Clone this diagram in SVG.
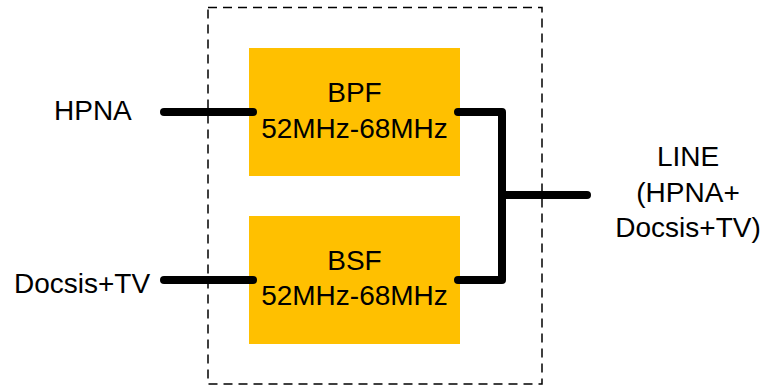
<svg xmlns="http://www.w3.org/2000/svg" width="768" height="387" viewBox="0 0 768 387">
<style>
.t{font-family:"Liberation Sans",Arial,sans-serif;font-size:28px;fill:#000}
.c{text-anchor:middle}
.box{fill:#FFC000}
.w{fill:none;stroke:#000;stroke-width:8;stroke-linecap:round;stroke-linejoin:round}
</style>
<rect x="208" y="7.5" width="334" height="376.5" fill="none" stroke="#000" stroke-width="1.5" stroke-dasharray="9,6"/>
<g id="bpf">
<rect class="box" x="249" y="48" width="211" height="128"/>
<text class="t c" x="354.5" y="101.5">BPF</text>
<text class="t c" x="354.5" y="137.5">52MHz-68MHz</text>
</g>
<g id="bsf">
<rect class="box" x="249" y="216" width="211" height="128"/>
<text class="t c" x="354.5" y="270">BSF</text>
<text class="t c" x="354.5" y="304.5">52MHz-68MHz</text>
</g>
<g id="hpna">
<text class="t" x="54" y="120">HPNA</text>
</g>
<g id="docsis">
<text class="t" x="14" y="293">Docsis+TV</text>
</g>
<g id="line">
<text class="t c" x="688" y="166">LINE</text>
<text class="t c" x="688" y="201.5">(HPNA+</text>
<text class="t c" x="688" y="237">Docsis+TV)</text>
</g>
<g id="connectors">
<path class="w" d="M164 112H253"/>
<path class="w" d="M164 280H253"/>
<path class="w" d="M458 112H502V280H458"/>
<path class="w" d="M502 195H587"/>
</g>
</svg>
